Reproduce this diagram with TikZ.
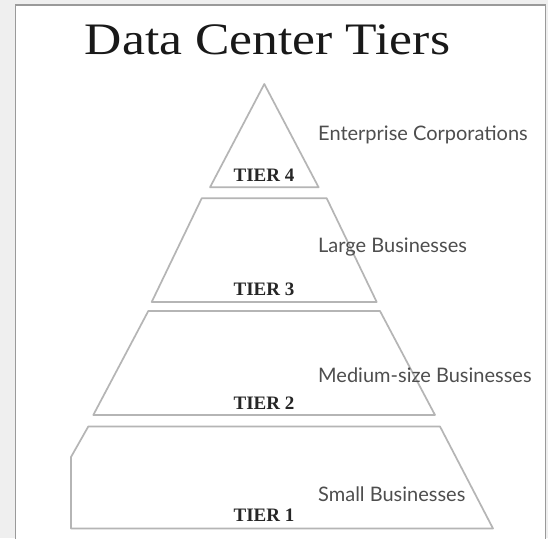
\documentclass[tikz,border=0pt]{standalone}
\usepackage{fontspec}
\setmainfont{Liberation Serif}
\newfontfamily\labelfont{Lato}
\definecolor{bgcol}{HTML}{EFEFEF}
\definecolor{panelline}{HTML}{9A9A9A}
\definecolor{tierline}{HTML}{B5B5B5}
\definecolor{desccol}{HTML}{4E4E4E}
\begin{document}
\begin{tikzpicture}[x=1pt,y=-1pt,
  tier/.style={draw=tierline, line width=1.7pt, line join=round},
  tierlabel/.style={font=\fontsize{19}{19}\selectfont\bfseries, anchor=base, inner sep=0pt, text=black!85},
  desc/.style={font=\labelfont\fontsize{20}{20}\selectfont, text=desccol, anchor=base west, inner sep=0pt},
  titlestyle/.style={font=\fontsize{45}{45}\selectfont, anchor=base, inner sep=0pt, text=black!90}]
\fill[bgcol] (0,0) rectangle (548,538);
\useasboundingbox (0,0) rectangle (548,538);
\filldraw[fill=white, draw=panelline, line width=1.3pt] (15.5,545) -- (15.5,5) -- (545.5,5) -- (545.5,545);
\node[titlestyle] (title) at (267.5,54) {\scalebox{1.147}[1]{Data Center Tiers}};
% tiers
\coordinate (t4a) at (264.3,84);
\coordinate (t4l) at (210,187.3);
\coordinate (t4r) at (318.6,187.3);
\draw[tier] (t4a) -- (t4l) -- (t4r) -- cycle;
\draw[tier] (201.7,198.3) -- (326.7,198.3) -- (376.7,302) -- (151.7,302) -- cycle;
\draw[tier] (148.3,311) -- (380,311) -- (435,415) -- (93.3,415) -- cycle;
\draw[tier] (88.3,426.5) -- (440,426.5) -- (493,528.5) -- (71,528.5) -- (71,457) -- cycle;
% tier labels
\node[tierlabel] (l4) at (264,181.7) {TIER 4};
\node[tierlabel] (l3) at (264,295.5) {TIER 3};
\node[tierlabel] (l2) at (264,409.5) {TIER 2};
\node[tierlabel] (l1) at (264,521.5) {TIER 1};
% descriptions
\node[desc] (d4) at (318,140.5) {Enterprise Corporations};
\node[desc] (d3) at (318,252.7) {Large Businesses};
\node[desc] (d2) at (318,382.7) {Medium-size Businesses};
\node[desc] (d1) at (318,501) {Small Businesses};
\end{tikzpicture}
\end{document}
